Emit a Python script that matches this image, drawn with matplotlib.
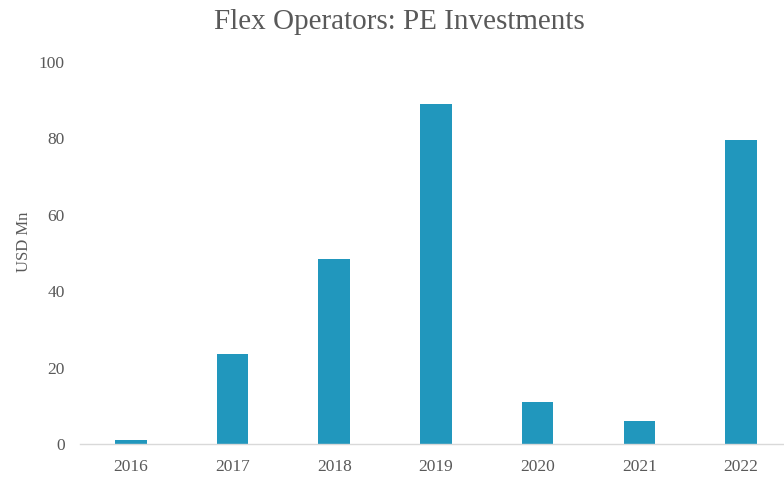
import matplotlib
matplotlib.use("Agg")
import matplotlib.pyplot as plt

years = ["2016", "2017", "2018", "2019", "2020", "2021", "2022"]
investments = [1.0, 23.5, 48.5, 89.0, 11.0, 6.0, 79.5]
y_ticks = [0, 20, 40, 60, 80, 100]

text_color = "#595959"
bar_color = "#2197BD"

plt.rcParams["font.family"] = ["Liberation Serif", "DejaVu Serif"]

fig = plt.figure(figsize=(7.84, 4.79), dpi=100)
ax = fig.add_axes([0.102, 0.073, 0.908, 0.7976])

x = range(len(years))
ax.bar(x, investments, width=0.31, color=bar_color, zorder=2)

ax.set_xlim(-0.5, len(years) - 0.5)
ax.set_ylim(0, 100)
ax.set_yticks(y_ticks)
ax.set_xticks(list(x))
ax.set_xticklabels(years)

for side in ("top", "right", "left"):
    ax.spines[side].set_visible(False)
ax.spines["bottom"].set_color("#d9d9d9")
ax.spines["bottom"].set_linewidth(1.0)

ax.tick_params(axis="both", length=0, labelsize=12.5, colors=text_color)
ax.tick_params(axis="y", pad=11)
ax.tick_params(axis="x", pad=11)

ax.set_ylabel("USD Mn", fontsize=12, color=text_color)
ax.yaxis.set_label_coords(-0.067, 0.53)
fig.text(0.51, 0.955, "Flex Operators: PE Investments", fontsize=21,
         color=text_color, ha="center", va="center")

fig.savefig("out.png", dpi=100)
